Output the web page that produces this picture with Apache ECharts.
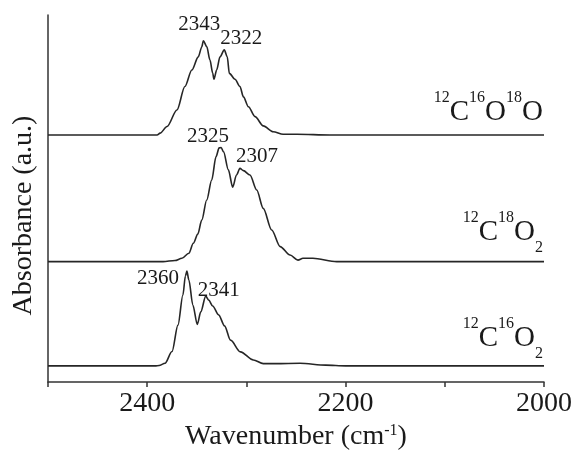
<!DOCTYPE html>
<html>
<head>
<meta charset="utf-8">
<script src="https://cdn.jsdelivr.net/npm/echarts@6/dist/echarts.min.js"></script>
<style>
  html, body { margin: 0; padding: 0; background: #fff; }
  #chart { width: 578px; height: 450px; }
</style>
</head>
<body>
<div id="chart"></div>
<script>
// wavenumbers (cm-1) and offset absorbance
var wn_16O18O  = [2500, 2390, 2387, 2380, 2370, 2362, 2355, 2348.5, 2345, 2343.4, 2340, 2336.7, 2334, 2332.7, 2330, 2326.6, 2322.3, 2319.3, 2317.2, 2311.5, 2306.5, 2303, 2298, 2291.3, 2283, 2273, 2263, 2249, 2216, 2000];
var abs_16O18O = [67.3, 67.3, 67.8, 69.6, 74.1, 80.5, 85.0, 88.6, 91.3, 93.0, 91.4, 87.7, 84.2, 82.5, 85.0, 88.6, 90.5, 88.6, 84.1, 82.5, 80.5, 77.7, 75.0, 72.3, 69.8, 68.2, 67.5, 67.5, 67.3, 67.3];

var wn_18O2  = [2500, 2384, 2372, 2365, 2358, 2353.5, 2349, 2345, 2340, 2335, 2330.6, 2327.5, 2325.5, 2323, 2318.2, 2313.8, 2310, 2306.5, 2303, 2296.4, 2289.6, 2283, 2274.5, 2266, 2256, 2248, 2243, 2233, 2209, 2000];
var abs_18O2 = [32.8, 32.8, 33.1, 33.7, 35.1, 37.8, 40.3, 44.1, 49.6, 55.0, 61.4, 63.8, 63.9, 62.7, 57.8, 53.1, 56.4, 58.2, 57.6, 56.4, 52.3, 47.3, 41.4, 36.9, 34.6, 33.2, 33.7, 33.7, 32.8, 32.8];

var wn_16O2  = [2500, 2392, 2388, 2382, 2375, 2369, 2364, 2361.5, 2360, 2358, 2354, 2349.5, 2346, 2341, 2338, 2334, 2328, 2322, 2316, 2306, 2293, 2283, 2270, 2246, 2220, 2200, 2000];
var abs_16O2 = [4.4, 4.4, 4.5, 5.1, 8.3, 15.5, 23.7, 28.9, 30.2, 27.8, 21.0, 15.7, 19.1, 23.4, 22.3, 20.7, 18.3, 15.3, 11.4, 8.2, 6.0, 5.0, 5.0, 5.1, 4.6, 4.4, 4.4];

// peak positions shown as labels
var peaks_16O18O = [2343, 2322];
var peaks_18O2   = [2325, 2307];
var peaks_16O2   = [2360, 2341];

var xTicks = [2400, 2200, 2000];

var FONT = '"Liberation Serif", "Times New Roman", serif';

function zip(xs, ys) {
  return xs.map(function (x, i) { return [x, ys[i]]; });
}
function peakAt(xs, ys, w) {
  // nearest sampled point to the labelled peak
  var best = 0;
  for (var i = 0; i < xs.length; i++) {
    if (Math.abs(xs[i] - w) < Math.abs(xs[best] - w)) best = i;
  }
  return [xs[best], ys[best]];
}

var speciesRich = {
  sup:  { fontFamily: FONT, fontSize: 16, lineHeight: 15, color: '#1a1a1a', verticalAlign: 'top' },
  main: { fontFamily: FONT, fontSize: 29, lineHeight: 29, color: '#1a1a1a', verticalAlign: 'top', padding: [8, 0, 0, 0] },
  sub:  { fontFamily: FONT, fontSize: 16, lineHeight: 15, color: '#1a1a1a', verticalAlign: 'top', padding: [30, 0, 0, 0] }
};

function peakMark(xs, ys, w, off) {
  return {
    coord: peakAt(xs, ys, w),
    value: w,
    label: { offset: off }
  };
}
function speciesMark(base, text, dy) {
  return {
    coord: [2000, base],
    value: 0,
    label: {
      formatter: text,
      rich: speciesRich,
      align: 'right',
      verticalAlign: 'top',
      offset: [-1, dy]
    }
  };
}

function makeSeries(name, xs, ys, peaks, offs, species, dy) {
  var marks = peaks.map(function (p, i) { return peakMark(xs, ys, p, offs[i]); });
  marks.push(speciesMark(ys[ys.length - 1], species, dy));
  return {
    name: name,
    type: 'line',
    data: zip(xs, ys),
    showSymbol: false,
    smooth: 0.3,
    smoothMonotone: 'x',
    lineStyle: { color: '#262626', width: 1.6 },
    markPoint: {
      symbol: 'circle',
      symbolSize: 0,
      silent: true,
      label: {
        show: true,
        position: 'inside',
        fontFamily: FONT,
        fontSize: 21,
        color: '#1a1a1a',
        formatter: '{c}'
      },
      data: marks
    }
  };
}

var chart = echarts.init(document.getElementById('chart'));
chart.setOption({
  animation: false,
  backgroundColor: '#fff',
  grid: { left: 48, right: 34, top: 15, bottom: 68, containLabel: false, outerBoundsMode: 'none' },
  xAxis: {
    type: 'value',
    min: 2000,
    max: 2500,
    interval: 100,
    inverse: true,
    name: 'Wavenumber (cm{sup|-1})',
    nameLocation: 'middle',
    nameGap: 38,
    nameTextStyle: {
      fontFamily: FONT, fontSize: 28, color: '#1a1a1a',
      rich: { sup: { fontFamily: FONT, fontSize: 16, verticalAlign: 'top', lineHeight: 14, color: '#1a1a1a' } }
    },
    axisLine: { lineStyle: { color: '#333', width: 1.5 } },
    axisTick: { inside: false, length: 5, lineStyle: { color: '#333', width: 1.5 } },
    splitLine: { show: false },
    axisLabel: {
      margin: 8,
      fontFamily: FONT,
      fontSize: 28,
      color: '#1a1a1a',
      formatter: function (v) { return xTicks.indexOf(v) >= 0 ? String(v) : ''; }
    }
  },
  yAxis: {
    type: 'value',
    min: 0,
    max: 100,
    name: 'Absorbance (a.u.)',
    nameLocation: 'middle',
    nameGap: 10,
    nameTextStyle: { fontFamily: FONT, fontSize: 28, color: '#1a1a1a', padding: [0, 34, 0, 0] },
    axisLine: { show: true, lineStyle: { color: '#333', width: 1.5 } },
    axisTick: { show: false },
    axisLabel: { show: false },
    splitLine: { show: false }
  },
  series: [
    makeSeries('12C16O18O', wn_16O18O, abs_16O18O, peaks_16O18O, [[-4, -16], [17, -11]],
      '{sup|12}{main|C}{sup|16}{main|O}{sup|18}{main|O}', -45),
    makeSeries('12C18O2', wn_18O2, abs_18O2, peaks_18O2, [[-13, -11], [17, -12]],
      '{sup|12}{main|C}{sup|18}{main|O}{sub|2}', -52),
    makeSeries('12C16O2', wn_16O2, abs_16O2, peaks_16O2, [[-29, 7], [13, -6]],
      '{sup|12}{main|C}{sup|16}{main|O}{sub|2}', -50)
  ]
});
</script>
</body>
</html>
